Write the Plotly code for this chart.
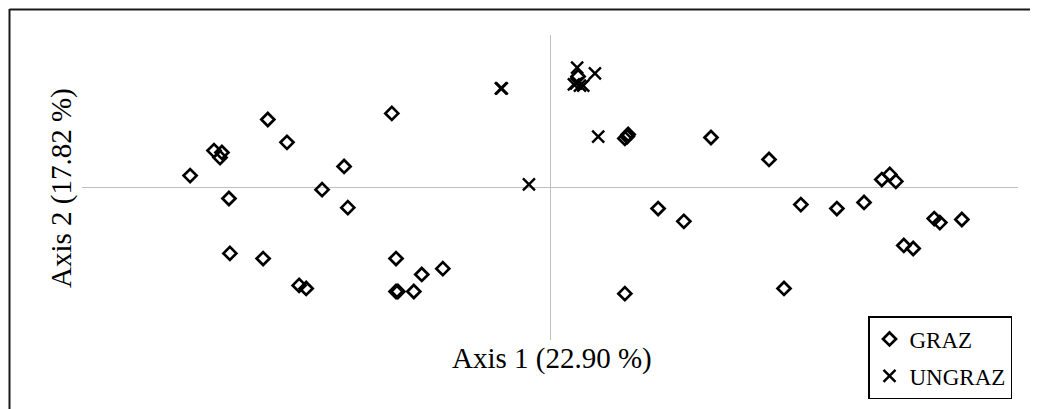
import plotly.graph_objects as go

graz_x = [-7.69, -7.18, -7.01, -7.05, -6.03, -5.62, -6.86, -4.40, -4.87, -4.32, -3.38,
          -6.84, -6.13, -5.36, -5.21, -3.29, -3.29, -3.25, -2.91, -2.74, -2.29,
          0.60, 1.60, 1.67, 1.65,
          3.44, 4.68, 7.09, 7.26, 7.39, 2.31, 2.86, 5.36, 6.13, 6.71,
          8.21, 8.33, 8.80, 7.56, 7.76, 1.60, 5.00]
graz_y = [0.39, 1.21, 1.15, 0.98, 2.23, 1.48, -0.36, 0.69, -0.07, -0.66, 2.43,
          -2.16, -2.33, -3.21, -3.31, -2.33, -3.41, -3.41, -3.41, -2.85, -2.66,
          3.64, 1.61, 1.74, 1.67,
          1.64, 0.92, 0.26, 0.43, 0.20, -0.69, -1.11, -0.56, -0.69, -0.49,
          -1.02, -1.15, -1.05, -1.90, -2.00, -3.48, -3.31]

ungraz_x = [-1.05, -1.03, -0.45, 0.58, 0.96, 0.56, 0.64, 0.71, 0.51, 1.03]
ungraz_y = [3.25, 3.25, 0.10, 3.93, 3.74, 3.41, 3.34, 3.34, 3.38, 1.67]

x_title = "Axis 1 (22.90 %)"
y_title = "Axis 2 (17.82 %)"

serif = "Liberation Serif, Times New Roman, serif"

# page has an 8px body margin; figure drawn at 1030x401
W, H = 1030, 401
L, T = 74, 27
PW, PH = 936, 305

def px(xp):
    return (xp - 8 - L) / PW

def py(yp):
    return (T + PH - (yp - 8)) / PH

fig = go.Figure()
fig.add_trace(go.Scatter(
    x=graz_x, y=graz_y, mode="markers", name="GRAZ", legendgroup="a",
    marker=dict(symbol="diamond-open", size=10, color="black",
                line=dict(color="black", width=2.7)),
))
fig.add_trace(go.Scatter(
    x=ungraz_x, y=ungraz_y, mode="markers", name="UNGRAZ", legendgroup="b",
    marker=dict(symbol="x-thin-open", size=12, color="black",
                line=dict(color="black", width=2.4)),
))

axis_common = dict(showgrid=False, showticklabels=False, ticks="",
                   showline=False, zeroline=True, zerolinecolor="#bfbfbf",
                   zerolinewidth=1)
fig.update_xaxes(range=[-10, 10], **axis_common)
fig.update_yaxes(range=[-5, 5], **axis_common)

fig.update_layout(
    width=W, height=H,
    margin=dict(l=L, r=W - L - PW, t=T, b=H - T - PH, autoexpand=False),
    paper_bgcolor="white", plot_bgcolor="white",
    font=dict(family=serif, color="black"),
    showlegend=True,
    legend=dict(x=px(868), y=py(316), xanchor="left", yanchor="top",
                bgcolor="white", bordercolor="black", borderwidth=1.5,
                font=dict(size=23, family=serif, color="black"),
                itemwidth=30, tracegroupgap=4),
    annotations=[
        dict(text=x_title, xref="paper", yref="paper", x=px(552), y=py(358),
             xanchor="center", yanchor="middle", showarrow=False,
             font=dict(size=29, family=serif, color="black")),
        dict(text=y_title, xref="paper", yref="paper", x=px(61), y=py(188),
             xanchor="center", yanchor="middle", showarrow=False, textangle=-90,
             font=dict(size=29, family=serif, color="black")),
    ],
    shapes=[
        dict(type="line", xref="paper", yref="paper",
             x0=px(9.5), x1=px(9.5), y0=py(9), y1=py(420),
             line=dict(color="#1a1a1a", width=2)),
        dict(type="line", xref="paper", yref="paper",
             x0=px(9.5), x1=px(1045), y0=py(9.5), y1=py(9.5),
             line=dict(color="#1a1a1a", width=2)),
    ],
)

fig.write_html("out.html")
